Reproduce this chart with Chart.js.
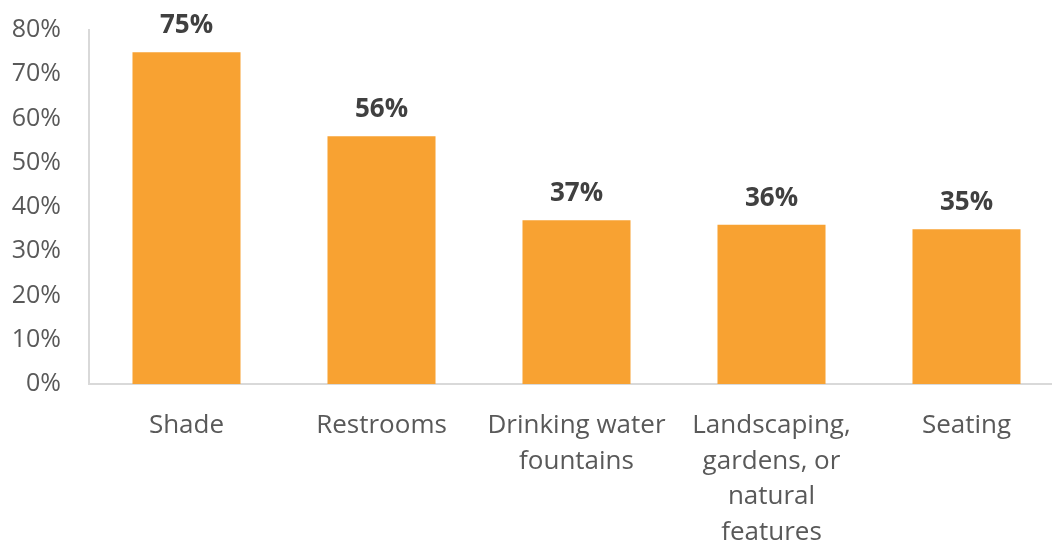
<!DOCTYPE html>
<html>
<head>
<meta charset="utf-8">
<script src="https://cdn.jsdelivr.net/npm/chart.js@4"></script>
<style>
  html, body { margin: 0; padding: 0; background: #fff; overflow: hidden; }
  #wrap { width: 1066px; height: 541px; }
</style>
</head>
<body>
<div id="wrap"><canvas id="canvas" width="1066" height="541"></canvas></div>
<script>
// amenities people want near the site
const categories = [
  'Shade',
  'Restrooms',
  ['Drinking water', 'fountains'],
  ['Landscaping,', 'gardens, or', 'natural', 'features'],
  'Seating'
];
const percents = [75, 56, 37, 36, 35];
const yTicks = [0, 10, 20, 30, 40, 50, 60, 70, 80];

const barColor = '#F8A232';
const axisGrey = '#D9D9D9';

// draws the bold value above each bar
const valueLabels = {
  id: 'valueLabels',
  afterDatasetsDraw(chart) {
    const c = chart.ctx;
    const meta = chart.getDatasetMeta(0);
    c.save();
    c.font = 'bold 26px "Open Sans"';
    c.fillStyle = '#404040';
    c.textAlign = 'center';
    c.textBaseline = 'alphabetic';
    meta.data.forEach((bar, i) => {
      c.fillText(percents[i] + '%', bar.x, bar.y - 19);
    });
    c.restore();
  }
};

const ctx = document.getElementById('canvas');

new Chart(ctx, {
  type: 'bar',
  data: {
    labels: categories,
    datasets: [{
      data: percents,
      backgroundColor: barColor,
      borderWidth: 0,
      categoryPercentage: 1,
      barPercentage: 0.554
    }]
  },
  options: {
    responsive: false,
    animation: false,
    layout: { padding: { top: 30, right: 2, left: 0, bottom: 0 } },
    plugins: {
      legend: { display: false },
      tooltip: { enabled: false }
    },
    scales: {
      x: {
        grid: { display: false },
        border: { display: true, color: axisGrey, width: 2 },
        ticks: {
          color: '#595959',
          font: { family: 'Open Sans', size: 26, lineHeight: 1.37 },
          padding: 16,
          maxRotation: 0,
          autoSkip: false
        },
        afterFit: (scale) => { scale.height = 157 }
      },
      y: {
        min: 0,
        max: 80,
        afterBuildTicks: (scale) => { scale.ticks = yTicks.map(v => ({ value: v })) },
        grid: { display: false, drawTicks: false },
        border: { display: true, color: axisGrey, width: 2 },
        ticks: {
          color: '#595959',
          font: { family: 'Open Sans', size: 25 },
          padding: 28,
          callback: (v) => v + '%'
        },
        afterFit: (scale) => {
          scale.width = 89
          // the tick padding would otherwise push the plot top down
          scale.paddingTop = 0
          scale.paddingBottom = 0
        }
      }
    }
  },
  plugins: [valueLabels]
});
</script>
</body>
</html>
